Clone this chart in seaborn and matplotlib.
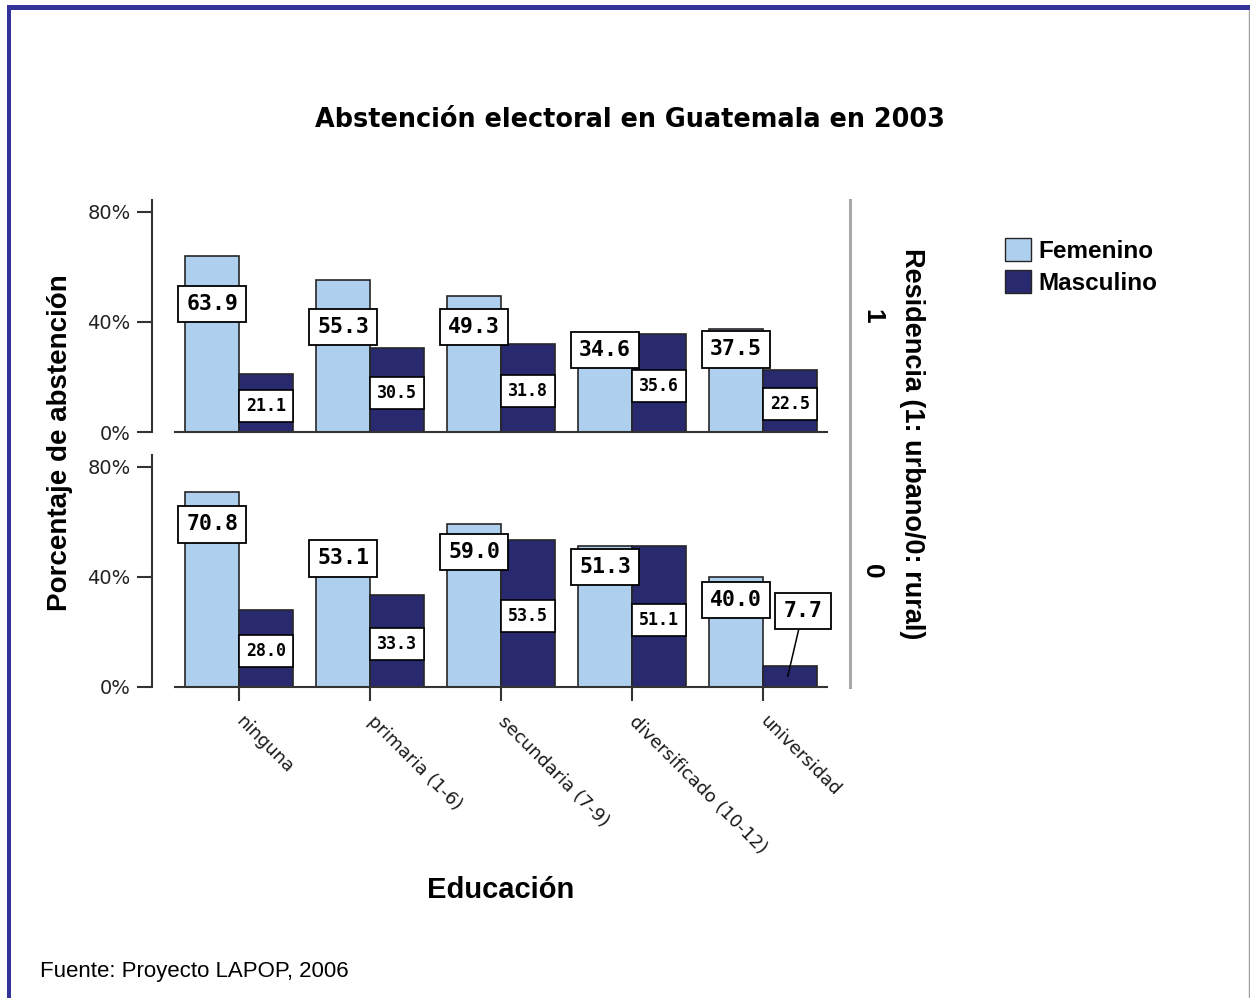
'''
Abstencion electoral en Guatemala en 2003, by education, sex and residence
'''

import pandas as pd
import seaborn as sns
import matplotlib.pyplot as plt
from matplotlib.patches import Patch, Rectangle
from matplotlib.lines import Line2D

educacion = ['ninguna', 'primaria (1-6)', 'secundaria (7-9)',
             'diversificado (10-12)', 'universidad']
sexos = ['Femenino', 'Masculino']
residencias = [1, 0]

urbano_fem = [63.9, 55.3, 49.3, 34.6, 37.5]
urbano_masc = [21.1, 30.5, 31.8, 35.6, 22.5]
rural_fem = [70.8, 53.1, 59.0, 51.3, 40.0]
rural_masc = [28.0, 33.3, 53.5, 51.1, 7.7]

# where the callout boxes of the female bars sit (percent)
fem_label_at = {1: [46.5, 38, 38, 29.8, 30], 0: [59, 46.7, 49, 43.5, 31.5]}

FEM = '#AED0EE'
MASC = '#28296F'
W, H = 1250, 998


def build_frame():
    rows = []
    series = {(1, 'Femenino'): urbano_fem, (1, 'Masculino'): urbano_masc,
              (0, 'Femenino'): rural_fem, (0, 'Masculino'): rural_masc}
    for (res, sexo), vals in series.items():
        for edu, v in zip(educacion, vals):
            rows.append({'residencia': res, 'sexo': sexo,
                         'educacion': edu, 'pct': v})
    return pd.DataFrame(rows)


def fx(px):
    return px / W


def fy(py):
    return 1 - py / H


def main():
    plt.rcParams['font.family'] = ['DejaVu Sans']
    df = build_frame()

    g = sns.catplot(data=df, x='educacion', y='pct', hue='sexo',
                    row='residencia', row_order=residencias,
                    order=educacion, hue_order=sexos, kind='bar',
                    palette=[FEM, MASC], saturation=1, width=0.82,
                    errorbar=None, edgecolor='#262626', linewidth=1.2,
                    legend=False, height=3, aspect=2.5)
    fig = g.figure
    fig.set_size_inches(W / 100, H / 100)
    fig.set_dpi(100)
    fig.subplots_adjust(left=fx(175), right=fx(827), top=fy(200),
                        bottom=fy(687), hspace=23 / 232)
    g.set_axis_labels('', '')

    axes = g.axes.flatten()
    values = {1: (urbano_fem, urbano_masc), 0: (rural_fem, rural_masc)}
    for ax, res in zip(axes, residencias):
        ax.set_title('')
        ax.set_xlim(-0.49, 4.49)
        ax.set_ylim(0, 84.2)
        ax.set_yticks([0, 40, 80])
        ax.set_yticklabels(['0%', '40%', '80%'])
        ax.spines['left'].set_position(('outward', 16.5))
        for side in ['left', 'bottom']:
            ax.spines[side].set_color('#333333')
            ax.spines[side].set_linewidth(1.5)
        ax.tick_params(axis='y', length=11, width=1.5, color='#333333',
                       pad=4.5, labelsize=14, labelcolor='#222222')
        ax.tick_params(axis='x', length=10, width=1.5, color='#333333',
                       pad=13)

        fem, masc = values[res]
        for i, (vf, vm) in enumerate(zip(fem, masc)):
            ax.text(i - 0.205, fem_label_at[res][i], f'{vf:.1f}',
                    ha='center', va='center', family='DejaVu Sans Mono',
                    weight='bold', size=15.5,
                    bbox=dict(boxstyle='square,pad=0.38', fc='white',
                              ec='black', lw=1.3))
            if vm < 10:
                ax.annotate(f'{vm:.1f}', xy=(i + 0.19, vm / 2),
                            xytext=(11, 47), textcoords='offset points',
                            ha='center', va='center',
                            family='DejaVu Sans Mono', weight='bold',
                            size=15.5,
                            bbox=dict(boxstyle='square,pad=0.38',
                                      fc='white', ec='black', lw=1.3),
                            arrowprops=dict(arrowstyle='-', color='black',
                                            lw=1.1, shrinkA=0, shrinkB=0))
            else:
                ax.text(i + 0.205, vm / 2 - 1.1, f'{vm:.1f}',
                        ha='center', va='center', family='DejaVu Sans Mono',
                        weight='bold', size=12,
                        bbox=dict(boxstyle='square,pad=0.42', fc='white',
                                  ec='black', lw=1.2))

        pos = ax.get_position()
        fig.text(fx(872), (pos.y0 + pos.y1) / 2, str(res), rotation=270,
                 ha='center', va='center', family='Liberation Sans',
                 weight='bold', size=19)

    axes[0].tick_params(axis='x', length=0)
    for lbl in axes[1].get_xticklabels():
        lbl.set(rotation=-45, ha='left', va='center',
                rotation_mode='anchor', size=13, color='#1a1a1a')

    fig.text(fx(630), fy(120), 'Abstención electoral en Guatemala en 2003',
             ha='center', va='center', weight='bold', size=18.4)
    fig.text(fx(60), fy(443), 'Porcentaje de abstención', rotation=90,
             ha='center', va='center', family='Liberation Sans',
             weight='bold', size=20)
    fig.text(fx(501), fy(890), 'Educación', ha='center', va='center',
             family='Liberation Sans', weight='bold', size=21)
    fig.text(fx(912), fy(444), 'Residencia (1: urbano/0: rural)',
             rotation=270, ha='center', va='center',
             family='Liberation Sans', weight='bold', size=19.5)
    fig.text(fx(40), fy(972), 'Fuente: Proyecto LAPOP, 2006',
             ha='left', va='center', family='Liberation Sans', size=16)

    # divider between panels and the row labels
    fig.add_artist(Line2D([fx(850), fx(850)], [fy(200), fy(687)],
                          color='#a8a8a8', lw=2.2))

    handles = [Patch(facecolor=FEM, edgecolor='#262626', label='Femenino'),
               Patch(facecolor=MASC, edgecolor='#262626', label='Masculino')]
    fig.legend(handles=handles, loc='upper left',
               bbox_to_anchor=(fx(1005), fy(238)), frameon=False,
               prop={'family': 'Liberation Sans', 'weight': 'bold',
                     'size': 17.5},
               handlelength=1.07, handleheight=1.07, handletextpad=0.3,
               labelspacing=0.3, borderpad=0, borderaxespad=0)

    # window frame
    fig.add_artist(Rectangle((fx(7), fy(10)), 1 - fx(7), 5 / H,
                             transform=fig.transFigure, color='#333399',
                             lw=0))
    fig.add_artist(Rectangle((fx(7), 0), 4 / W, fy(5),
                             transform=fig.transFigure, color='#333399',
                             lw=0))
    fig.add_artist(Line2D([fx(1248.5), fx(1248.5)], [0, fy(10)],
                          color='#a0a0a0', lw=1))

    fig.savefig('out.png', dpi=100)


if __name__ == '__main__':
    main()
